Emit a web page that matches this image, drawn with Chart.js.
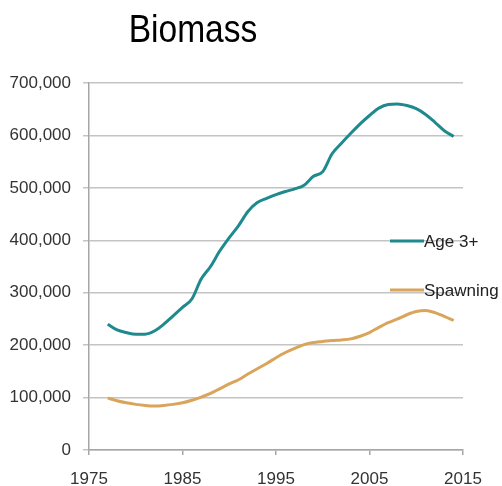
<!DOCTYPE html>
<html>
<head>
<meta charset="utf-8">
<title>Biomass</title>
<script src="https://cdn.jsdelivr.net/npm/chart.js@4.4.1/dist/chart.umd.min.js"></script>
<style>
	html,body{margin:0;padding:0;background:#fff;}
	#wrap{position:relative;width:502px;height:486px;}
</style>
</head>
<body>
<div id="wrap"><canvas id="Grafico1" width="502" height="486"></canvas></div>
<script>
// years on the x axis
let anios=[1977,1978,1979,1980,1981,1982,1983,1984,1985,1986,1987,1988,1989,1990,1991,1992,1993,1994,1995,1996,1997,1998,1999,2000,2001,2002,2003,2004,2005,2006,2007,2008,2009,2010,2011,2012,2013,2014];
// Age 3+ biomass
let edad3=[240000,229000,224000,221000,221000,227000,240000,256000,272000,288000,326000,350000,380000,405000,428000,455000,472000,480000,487000,493000,498000,505000,522000,531000,565000,585000,604000,622000,638000,652000,659000,660000,657000,651000,640000,625000,609000,598000];
// spawning biomass
let desove=[99000,94000,90000,87000,85000,84000,85000,87000,90000,95000,101000,108000,117000,126000,134000,145000,155000,165000,176000,186000,194000,201000,205000,207000,209000,210000,212000,217000,224000,234000,243000,250000,258000,264000,266000,262000,255000,247000];
let series=['Age 3+','Spawning'];
let colores=['#1f8a8e','#d9a55b'];
let titulo='Biomass';

function puntos(valores){
	return anios.map((a,i)=>({x:a,y:valores[i]}));
}

/* titulo y leyenda dibujados a mano */
const extras={
	id:'extras',
	afterDraw(chart){
		const ctx=chart.ctx;
		ctx.save();
		ctx.fillStyle='#000';
		ctx.font='39px "Liberation Sans", Arial, sans-serif';
		ctx.textAlign='center';
		ctx.textBaseline='alphabetic';
		ctx.translate(193,42);
		ctx.scale(0.86,1);
		ctx.fillText(titulo,0,0);
		ctx.restore();
		ctx.save();
		let ys=[241,290];
		chart.data.datasets.forEach((ds,i)=>{
			ctx.strokeStyle=ds.borderColor;
			ctx.lineWidth=3;
			ctx.beginPath();
			ctx.moveTo(390,ys[i]);
			ctx.lineTo(424,ys[i]);
			ctx.stroke();
			ctx.fillStyle='#222';
			ctx.font='17px "Liberation Sans", Arial, sans-serif';
			ctx.textAlign='left';
			ctx.textBaseline='middle';
			ctx.fillText(ds.label,424,ys[i]+1);
		});
		ctx.restore();
	}
};

let CanvasG1=document.getElementById('Grafico1').getContext('2d');
let datos={
	datasets:[
		{
			label:series[0],
			data:puntos(edad3),
			borderColor:colores[0],
			backgroundColor:colores[0],
			borderWidth:3,
			pointRadius:0,
			cubicInterpolationMode:'monotone',
			fill:false
		},
		{
			label:series[1],
			data:puntos(desove),
			borderColor:colores[1],
			backgroundColor:colores[1],
			borderWidth:3,
			pointRadius:0,
			cubicInterpolationMode:'monotone',
			fill:false
		}
	]
};
let fuente={family:'"Liberation Sans", Arial, sans-serif',size:17};
let opciones={
	responsive:false,
	animation:false,
	layout:{padding:{top:83,right:39,left:0,bottom:0}},
	plugins:{
		legend:{display:false},
		title:{display:false},
		tooltip:{enabled:false}
	},
	scales:{
		x:{
			type:'linear',
			min:1975,
			max:2015,
			afterFit(s){s.height=36;},
			ticks:{stepSize:10,color:'#333',font:fuente,padding:14,callback:v=>String(v)},
			grid:{drawOnChartArea:false,drawTicks:true,tickLength:5,color:'#a6a6a6',lineWidth:1.5},
			border:{color:'#a6a6a6',width:1.5}
		},
		y:{
			min:0,
			max:700000,
			afterFit(s){s.width=89;},
			ticks:{stepSize:100000,color:'#333',font:fuente,padding:12,
				callback:v=>v.toLocaleString('en-US')},
			grid:{color:'#c4c4c4',lineWidth:1.5,tickLength:6},
			border:{color:'#a6a6a6',width:1.5}
		}
	}
};

let G1=new Chart(CanvasG1,{
	type:'line',
	data:datos,
	options:opciones,
	plugins:[extras]
});
</script>
</body>
</html>
